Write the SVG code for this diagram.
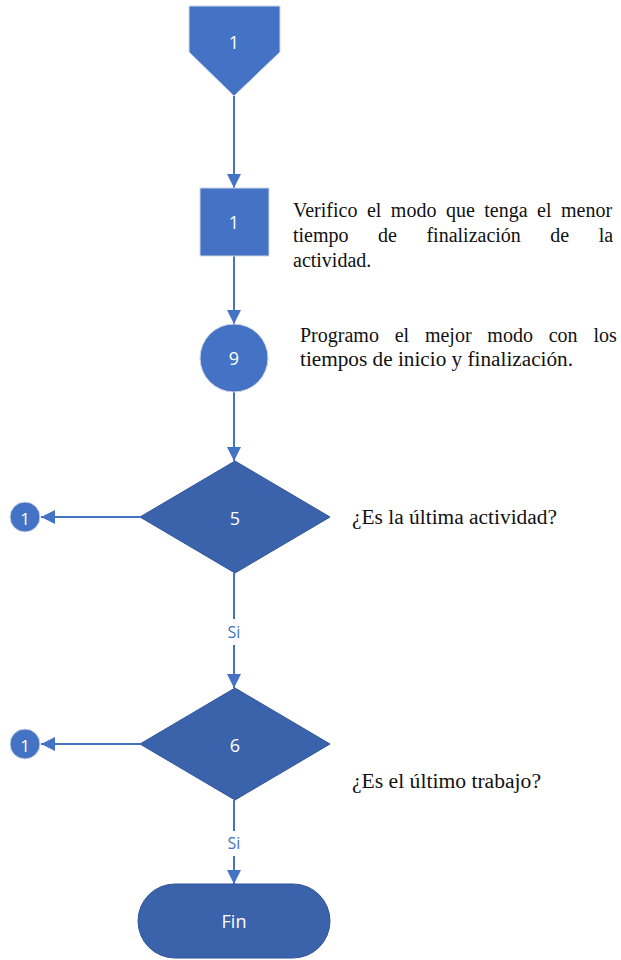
<svg xmlns="http://www.w3.org/2000/svg" width="621" height="960" viewBox="0 0 621 960">
<style>
.lt{fill:#4472C4;stroke:#D0D7E5;stroke-width:1}
.dk{fill:#3B63AC;stroke:#2F5597;stroke-width:1}
.lbl{font-family:"Open Sans","Noto Sans",sans-serif;font-size:18px;fill:#fff;text-anchor:middle;dominant-baseline:central}
.sm{font-size:17px}
.si{font-family:"Open Sans","Noto Sans",sans-serif;font-size:16px;fill:#4472C4;text-anchor:middle;dominant-baseline:central}
.tx{font-family:"Liberation Serif","Times New Roman",serif;font-size:20px;fill:#111}
.ln{stroke:#4472C4;stroke-width:2;fill:none}
</style>
<defs>
<marker id="ah" viewBox="0 0 10 10" refX="10" refY="5" markerWidth="7" markerHeight="7" markerUnits="strokeWidth" orient="auto">
<path d="M0,0 L10,5 L0,10 z" fill="#4472C4"/>
</marker>
</defs>
<rect width="621" height="960" fill="#fff"/>
<g id="connectors">
<line class="ln" x1="234" y1="96" x2="234" y2="188" marker-end="url(#ah)"/>
<line class="ln" x1="234" y1="256" x2="234" y2="324" marker-end="url(#ah)"/>
<line class="ln" x1="234" y1="392" x2="234" y2="461" marker-end="url(#ah)"/>
<line class="ln" x1="140" y1="517" x2="41" y2="517" marker-end="url(#ah)"/>
<line class="ln" x1="234" y1="573" x2="234" y2="619"/>
<line class="ln" x1="234" y1="645" x2="234" y2="688" marker-end="url(#ah)"/>
<text class="si" x="234" y="632">Si</text>
<line class="ln" x1="140" y1="744" x2="41" y2="744" marker-end="url(#ah)"/>
<line class="ln" x1="234" y1="800" x2="234" y2="831"/>
<line class="ln" x1="234" y1="856" x2="234" y2="884" marker-end="url(#ah)"/>
<text class="si" x="234" y="843">Si</text>
</g>
<g id="offpage1">
<path class="lt" d="M189,6 H280 V52 L234,96 L189,52 Z"/>
<text class="lbl" x="234" y="42">1</text>
</g>
<g id="process1">
<rect class="lt" x="200" y="188" width="69" height="68"/>
<text class="lbl" x="234" y="222">1</text>
</g>
<g id="text1">
<text class="tx" x="293" y="217" word-spacing="4.5">Verifico el modo que tenga el menor</text>
<text class="tx" x="293" y="242" word-spacing="24.5">tiempo de finalización de la</text>
<text class="tx" x="293" y="267">actividad.</text>
</g>
<g id="circle9">
<circle class="lt" cx="234" cy="358" r="34"/>
<text class="lbl" x="234" y="358">9</text>
</g>
<g id="text2">
<text class="tx" x="300" y="342" word-spacing="10.8">Programo el mejor modo con los</text>
<text class="tx" x="300" y="366" textLength="273" lengthAdjust="spacingAndGlyphs">tiempos de inicio y finalización.</text>
</g>
<g id="decision5">
<path class="dk" d="M235,461 L330,517 L235,573 L140,517 Z"/>
<text class="lbl" x="235" y="518">5</text>
</g>
<g id="text3">
<text class="tx" x="352" y="524" textLength="205" lengthAdjust="spacingAndGlyphs">¿Es la última actividad?</text>
</g>
<g id="conn1a">
<circle class="lt" cx="25" cy="517" r="15"/>
<text class="lbl sm" x="25" y="518">1</text>
</g>
<g id="decision6">
<path class="dk" d="M235,688 L330,744 L235,800 L140,744 Z"/>
<text class="lbl" x="235" y="745">6</text>
</g>
<g id="text4">
<text class="tx" x="352" y="788" textLength="189" lengthAdjust="spacingAndGlyphs">¿Es el último trabajo?</text>
</g>
<g id="conn1b">
<circle class="lt" cx="25" cy="744" r="15"/>
<text class="lbl sm" x="25" y="745">1</text>
</g>
<g id="fin">
<rect class="dk" x="138" y="884" width="192" height="74" rx="37" ry="37"/>
<text class="lbl" x="234" y="921">Fin</text>
</g>
</svg>
